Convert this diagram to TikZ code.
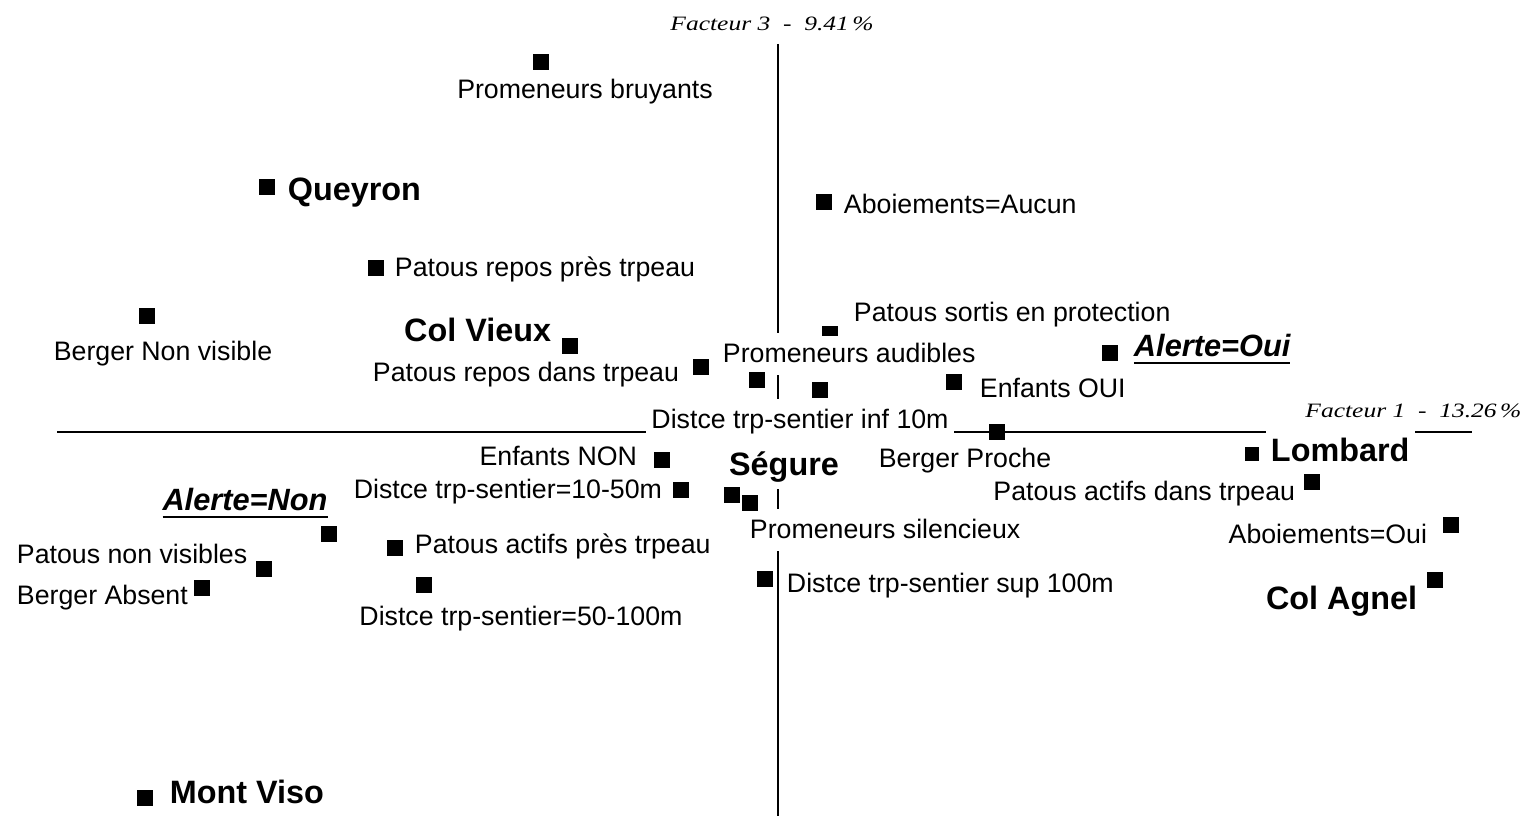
\documentclass[tikz,border=0pt]{standalone}
\usepackage{fontspec}
\setmainfont{Liberation Sans}
\newfontfamily\axisfont[FakeStretch=1.25]{Liberation Serif}
\usepackage{tikz}
\usetikzlibrary{positioning}

% underlined category title
\newcommand{\alertul}[1]{\setbox0=\hbox{#1}\copy0\kern-\wd0\rule[-2.35pt]{\wd0}{0.75pt}}

\tikzset{
  axis/.style={line width=0.65pt},
  mk/.style={rectangle, fill=black, inner sep=0pt, minimum size=4.4pt},
  mkflat/.style={rectangle, fill=black, inner sep=0pt, minimum width=4.6pt, minimum height=2.9pt},
  lab/.style={font=\fontsize{7.6}{9}\selectfont, fill=white, inner xsep=1.5pt, inner ysep=2pt,
    text height=6.6pt, text depth=1.5pt},
  site/.style={lab, font=\fontsize{9.2}{11}\selectfont\bfseries, text height=8pt, text depth=1.8pt},
  alerte/.style={lab, font=\fontsize{8.75}{10}\selectfont\bfseries\itshape, text height=7.6pt, text depth=1.8pt},
  axtitle/.style={font=\axisfont\itshape\fontsize{5.8}{7}\selectfont, inner sep=0pt}
}

\begin{document}
\begin{tikzpicture}[x=0.01cm, y=-0.01cm]
  \useasboundingbox (0,0) rectangle (1530,816);
  % factor axes
  \coordinate (xl) at (57,432);
  \coordinate (xr) at (1472,432);
  \coordinate (yt) at (778,44);
  \coordinate (yb) at (778,816);
  \draw[axis] (xl) -- (xr);
  \draw[axis] (yt) -- (yb);
  \node[axtitle] (f3) at (772,24) {Facteur 3\ \ -\ \ 9.41\,\%};
  \node[axtitle, anchor=east] (f1) at (1522,411) {Facteur 1\ \ -\ \ 13.26\,\%};

  % labels, upper half
  \node[lab] (l-bruy) at (585,90) {Promeneurs bruyants};
  \node[site, anchor=west] (l-quey) at (282,190) {Queyron};
  \node[lab, anchor=west] (l-aucun) at (838,205) {Aboiements=Aucun};
  \node[lab, anchor=west] (l-repospres) at (389,268) {Patous repos près trpeau};
  \node[lab] (l-bnv) at (163,352) {Berger Non visible};
  \node[site, anchor=east] (l-colv) at (557,331) {Col Vieux};
  \node[lab, anchor=east] (l-reposdans) at (685,373) {Patous repos dans trpeau};
  \node[lab, anchor=west] (l-sortis) at (848,313) {Patous sortis en protection};
  \node[lab, anchor=west] (l-audib) at (717,354) {Promeneurs audibles};
  \node[alerte, anchor=west] (l-oui) at (1128,346) {\alertul{Alerte=Oui}};
  \node[lab, anchor=west] (l-efoui) at (974,389) {Enfants OUI};
  \node[lab] (l-inf10) at (800,420) {Distce trp-sentier inf 10m};

  % labels, lower half
  \node[lab] (l-bproche) at (965,459) {Berger Proche};
  \node[site, anchor=west] (l-lomb) at (1265,451) {Lombard};
  \node[lab, anchor=east] (l-actdans) at (1301,492) {Patous actifs dans trpeau};
  \node[lab, anchor=east] (l-aboui) at (1433,535) {Aboiements=Oui};
  \node[site, anchor=east] (l-agnel) at (1423,599) {Col Agnel};
  \node[site] (l-seg) at (784,465) {Ségure};
  \node[lab, anchor=west] (l-silen) at (744,530) {Promeneurs silencieux};
  \node[lab, anchor=west] (l-sup100) at (781,584) {Distce trp-sentier sup 100m};
  \node[lab, anchor=east] (l-efnon) at (643,457) {Enfants NON};
  \node[lab, anchor=east] (l-d1050) at (668,490) {Distce trp-sentier=10-50m};
  \node[lab, anchor=west] (l-actpres) at (409,545) {Patous actifs près trpeau};
  \node[lab] (l-d50100) at (521,617) {Distce trp-sentier=50-100m};
  \node[alerte] (l-non) at (245,500) {\alertul{Alerte=Non}};
  \node[lab, anchor=west] (l-pnv) at (11,555) {Patous non visibles};
  \node[lab, anchor=west] (l-babs) at (11,596) {Berger Absent};
  \node[site, anchor=west] (l-viso) at (164,793) {Mont Viso};

  % points
  \node[mk] (m-bruy) at (541,62) {};
  \node[mk] (m-quey) at (267,187) {};
  \node[mk] (m-aucun) at (824,202) {};
  \node[mk] (m-repospres) at (376,268) {};
  \node[mk] (m-bnv) at (147,316) {};
  \node[mk] (m-colv) at (570,346) {};
  \node[mk] (m-reposdans) at (701,367) {};
  \node[mkflat] (m-sortis) at (830,331) {};
  \node[mk] (m-audib) at (757,380) {};
  \node[mk] (m-inf10) at (820,390) {};
  \node[mk] (m-oui) at (1110,353) {};
  \node[mk] (m-efoui) at (954,382) {};
  \node[mk] (m-bproche) at (997,432) {};
  \node[mk, minimum size=4pt] (m-lomb) at (1252,454) {};
  \node[mk] (m-actdans) at (1312,482) {};
  \node[mk] (m-aboui) at (1451,525) {};
  \node[mk] (m-agnel) at (1435,580) {};
  \node[mk] (m-seg) at (732,495) {};
  \node[mk] (m-silen) at (750,503) {};
  \node[mk] (m-sup100) at (765,579) {};
  \node[mk] (m-efnon) at (662,460) {};
  \node[mk] (m-d1050) at (681,490) {};
  \node[mk] (m-actpres) at (395,548) {};
  \node[mk] (m-d50100) at (424,585) {};
  \node[mk] (m-non) at (329,534) {};
  \node[mk] (m-pnv) at (264,569) {};
  \node[mk] (m-babs) at (202,588) {};
  \node[mk] (m-viso) at (145,798) {};
\end{tikzpicture}
\end{document}
